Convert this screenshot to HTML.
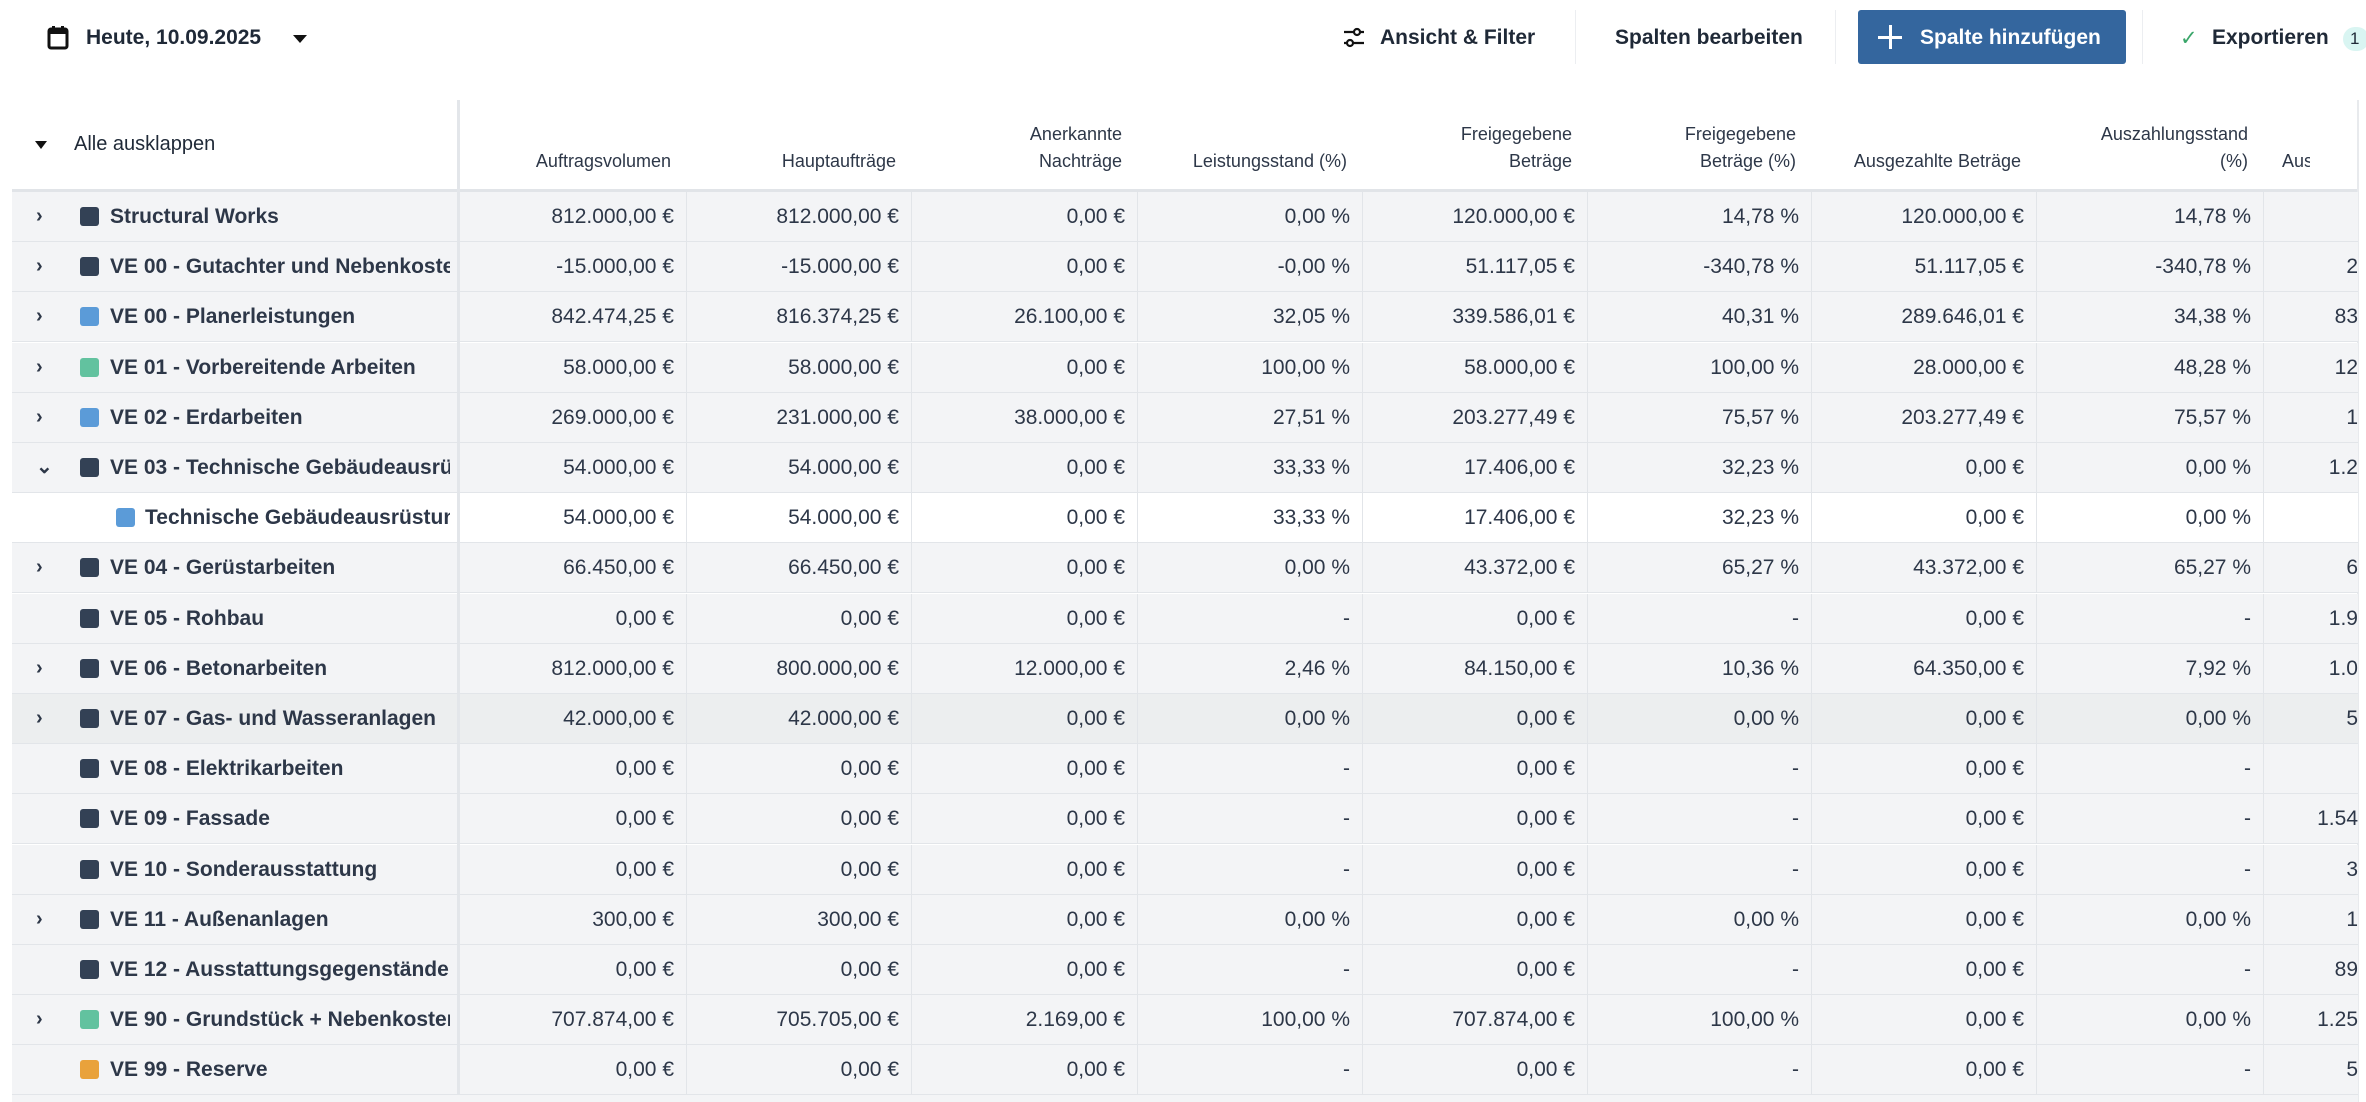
<!DOCTYPE html>
<html><head><meta charset="utf-8">
<style>
*{box-sizing:border-box;margin:0;padding:0}
html,body{width:2366px;height:1102px;overflow:hidden}
body{background:#fff;font-family:"Liberation Sans",sans-serif;color:#2d3748;position:relative}
.top{position:absolute;font-size:21px;font-weight:bold;color:#1f2937;top:26px}
.hdr{position:absolute;top:100px;height:91px;font-size:18px;color:#2d3748;text-align:right;line-height:27px;display:flex;align-items:flex-end;justify-content:flex-end;padding-bottom:16px;padding-right:16px}
.row{position:absolute;left:12px;width:2346px;height:50px;border-bottom:1px solid #e2e5e9;background:#f3f4f6;font-size:21px}
.row.w{background:#fff}
.row.h{background:#eceeef}
.c{position:absolute;top:0;height:49px;line-height:49px;text-align:right;padding-right:12px;border-right:1px solid #e2e5e9;white-space:nowrap;overflow:hidden}
.name{position:absolute;left:0;width:448px;height:49px;line-height:49px;font-weight:bold;white-space:nowrap;overflow:hidden;border-right:3px solid #e3e6ea}
.name .t{position:absolute;left:98px;width:340px;overflow:hidden}
.name .sq{position:absolute;left:68px;top:15px;width:19px;height:19px;border-radius:3px;background:#334155}
.name .ch{position:absolute;left:24px;top:0;font-size:20px;font-weight:bold}
</style></head><body>
<svg style="position:absolute;left:47px;top:25px" width="22" height="25" viewBox="0 0 22 25"><rect x="2" y="4" width="18" height="19" rx="2" fill="none" stroke="#111" stroke-width="3"/><rect x="2" y="4" width="18" height="5" fill="#111"/><rect x="5" y="1" width="3" height="5" fill="#111"/><rect x="14" y="1" width="3" height="5" fill="#111"/></svg>
<div class="top" style="left:86px">Heute, 10.09.2025</div>
<div style="position:absolute;left:293px;top:35px;width:0;height:0;border-left:7px solid transparent;border-right:7px solid transparent;border-top:8px solid #111"></div>
<svg style="position:absolute;left:1342px;top:26px" width="24" height="24" viewBox="0 0 24 24" fill="none" stroke="#111" stroke-width="2.2"><line x1="2" y1="6" x2="22" y2="6"/><line x1="2" y1="17" x2="22" y2="17"/><circle cx="15" cy="6" r="3" fill="#fff"/><circle cx="8" cy="17" r="3" fill="#fff"/></svg>
<div class="top" style="left:1380px">Ansicht &amp; Filter</div>
<div style="position:absolute;left:1575px;top:10px;width:1px;height:54px;background:#eceef1"></div>
<div class="top" style="left:1615px">Spalten bearbeiten</div>
<div style="position:absolute;left:1835px;top:10px;width:1px;height:54px;background:#eceef1"></div>
<div style="position:absolute;left:1858px;top:10px;width:268px;height:54px;background:#34669e;border-radius:3px"></div>
<div style="position:absolute;left:1878px;top:36px;width:24px;height:3px;background:#fff"></div>
<div style="position:absolute;left:1889px;top:25px;width:3px;height:24px;background:#fff"></div>
<div class="top" style="left:1920px;color:#fff">Spalte hinzufügen</div>
<div style="position:absolute;left:2142px;top:10px;width:1px;height:54px;background:#eceef1"></div>
<div class="top" style="left:2180px;color:#3aa66a;font-weight:normal">✓</div>
<div class="top" style="left:2212px">Exportieren</div>
<div style="position:absolute;left:2343px;top:27px;width:26px;height:24px;border-radius:12px;background:#d9f5f2;font-size:17px;line-height:24px;padding-left:7px;color:#1f2937">1</div>

<div style="position:absolute;left:12px;top:100px;width:2346px;height:92px;border-bottom:3px solid #e1e4e8"></div>
<div style="position:absolute;left:457px;top:100px;width:3px;height:1002px;background:#e3e6ea"></div>
<div style="position:absolute;left:2357px;top:100px;width:2px;height:1002px;background:#e8eaed"></div>
<div style="position:absolute;left:35px;top:141px;width:0;height:0;border-left:6px solid transparent;border-right:6px solid transparent;border-top:8px solid #111"></div>
<div style="position:absolute;left:74px;top:133px;font-size:20px;color:#1f2937">Alle ausklappen</div>
<div class="hdr" style="left:460px;width:227px">Auftragsvolumen</div>
<div class="hdr" style="left:687px;width:225px">Hauptaufträge</div>
<div class="hdr" style="left:912px;width:226px">Anerkannte<br>Nachträge</div>
<div class="hdr" style="left:1138px;width:225px">Leistungsstand (%)</div>
<div class="hdr" style="left:1363px;width:225px">Freigegebene<br>Beträge</div>
<div class="hdr" style="left:1588px;width:224px">Freigegebene<br>Beträge (%)</div>
<div class="hdr" style="left:1812px;width:225px">Ausgezahlte Beträge</div>
<div class="hdr" style="left:2037px;width:227px">Auszahlungsstand<br>(%)</div>
<div class="hdr" style="left:2264px;width:46px;justify-content:flex-start;padding-left:18px;padding-right:0;overflow:hidden">Ausgezahlt</div>

<div class="row" style="top:192px"><div class="name"><span class="ch">›</span><span class="sq"></span><span class="t">Structural Works</span></div><div class="c" style="left:448px;width:227px">812.000,00 €</div><div class="c" style="left:675px;width:225px">812.000,00 €</div><div class="c" style="left:900px;width:226px">0,00 €</div><div class="c" style="left:1126px;width:225px">0,00 %</div><div class="c" style="left:1351px;width:225px">120.000,00 €</div><div class="c" style="left:1576px;width:224px">14,78 %</div><div class="c" style="left:1800px;width:225px">120.000,00 €</div><div class="c" style="left:2025px;width:227px">14,78 %</div><div class="c" style="left:2252px;width:94px;padding-right:0;border:0"></div></div>
<div class="row" style="top:242px"><div class="name"><span class="ch">›</span><span class="sq"></span><span class="t">VE 00 - Gutachter und Nebenkosten</span></div><div class="c" style="left:448px;width:227px">-15.000,00 €</div><div class="c" style="left:675px;width:225px">-15.000,00 €</div><div class="c" style="left:900px;width:226px">0,00 €</div><div class="c" style="left:1126px;width:225px">-0,00 %</div><div class="c" style="left:1351px;width:225px">51.117,05 €</div><div class="c" style="left:1576px;width:224px">-340,78 %</div><div class="c" style="left:1800px;width:225px">51.117,05 €</div><div class="c" style="left:2025px;width:227px">-340,78 %</div><div class="c" style="left:2252px;width:94px;padding-right:0;border:0">2</div></div>
<div class="row" style="top:292px"><div class="name"><span class="ch">›</span><span class="sq" style="background:#5b9bd8"></span><span class="t">VE 00 - Planerleistungen</span></div><div class="c" style="left:448px;width:227px">842.474,25 €</div><div class="c" style="left:675px;width:225px">816.374,25 €</div><div class="c" style="left:900px;width:226px">26.100,00 €</div><div class="c" style="left:1126px;width:225px">32,05 %</div><div class="c" style="left:1351px;width:225px">339.586,01 €</div><div class="c" style="left:1576px;width:224px">40,31 %</div><div class="c" style="left:1800px;width:225px">289.646,01 €</div><div class="c" style="left:2025px;width:227px">34,38 %</div><div class="c" style="left:2252px;width:94px;padding-right:0;border:0">83</div></div>
<div class="row" style="top:343px"><div class="name"><span class="ch">›</span><span class="sq" style="background:#62c29f"></span><span class="t">VE 01 - Vorbereitende Arbeiten</span></div><div class="c" style="left:448px;width:227px">58.000,00 €</div><div class="c" style="left:675px;width:225px">58.000,00 €</div><div class="c" style="left:900px;width:226px">0,00 €</div><div class="c" style="left:1126px;width:225px">100,00 %</div><div class="c" style="left:1351px;width:225px">58.000,00 €</div><div class="c" style="left:1576px;width:224px">100,00 %</div><div class="c" style="left:1800px;width:225px">28.000,00 €</div><div class="c" style="left:2025px;width:227px">48,28 %</div><div class="c" style="left:2252px;width:94px;padding-right:0;border:0">12</div></div>
<div class="row" style="top:393px"><div class="name"><span class="ch">›</span><span class="sq" style="background:#5b9bd8"></span><span class="t">VE 02 - Erdarbeiten</span></div><div class="c" style="left:448px;width:227px">269.000,00 €</div><div class="c" style="left:675px;width:225px">231.000,00 €</div><div class="c" style="left:900px;width:226px">38.000,00 €</div><div class="c" style="left:1126px;width:225px">27,51 %</div><div class="c" style="left:1351px;width:225px">203.277,49 €</div><div class="c" style="left:1576px;width:224px">75,57 %</div><div class="c" style="left:1800px;width:225px">203.277,49 €</div><div class="c" style="left:2025px;width:227px">75,57 %</div><div class="c" style="left:2252px;width:94px;padding-right:0;border:0">1</div></div>
<div class="row" style="top:443px"><div class="name"><span class="ch">⌄</span><span class="sq"></span><span class="t">VE 03 - Technische Gebäudeausrüstung</span></div><div class="c" style="left:448px;width:227px">54.000,00 €</div><div class="c" style="left:675px;width:225px">54.000,00 €</div><div class="c" style="left:900px;width:226px">0,00 €</div><div class="c" style="left:1126px;width:225px">33,33 %</div><div class="c" style="left:1351px;width:225px">17.406,00 €</div><div class="c" style="left:1576px;width:224px">32,23 %</div><div class="c" style="left:1800px;width:225px">0,00 €</div><div class="c" style="left:2025px;width:227px">0,00 %</div><div class="c" style="left:2252px;width:94px;padding-right:0;border:0">1.2</div></div>
<div class="row w" style="top:493px"><div class="name"><span class="sq" style="left:104px;background:#5b9bd8"></span><span class="t" style="left:133px;width:305px">Technische Gebäudeausrüstung</span></div><div class="c" style="left:448px;width:227px">54.000,00 €</div><div class="c" style="left:675px;width:225px">54.000,00 €</div><div class="c" style="left:900px;width:226px">0,00 €</div><div class="c" style="left:1126px;width:225px">33,33 %</div><div class="c" style="left:1351px;width:225px">17.406,00 €</div><div class="c" style="left:1576px;width:224px">32,23 %</div><div class="c" style="left:1800px;width:225px">0,00 €</div><div class="c" style="left:2025px;width:227px">0,00 %</div><div class="c" style="left:2252px;width:94px;padding-right:0;border:0"></div></div>
<div class="row" style="top:543px"><div class="name"><span class="ch">›</span><span class="sq"></span><span class="t">VE 04 - Gerüstarbeiten</span></div><div class="c" style="left:448px;width:227px">66.450,00 €</div><div class="c" style="left:675px;width:225px">66.450,00 €</div><div class="c" style="left:900px;width:226px">0,00 €</div><div class="c" style="left:1126px;width:225px">0,00 %</div><div class="c" style="left:1351px;width:225px">43.372,00 €</div><div class="c" style="left:1576px;width:224px">65,27 %</div><div class="c" style="left:1800px;width:225px">43.372,00 €</div><div class="c" style="left:2025px;width:227px">65,27 %</div><div class="c" style="left:2252px;width:94px;padding-right:0;border:0">6</div></div>
<div class="row" style="top:594px"><div class="name"><span class="sq"></span><span class="t">VE 05 - Rohbau</span></div><div class="c" style="left:448px;width:227px">0,00 €</div><div class="c" style="left:675px;width:225px">0,00 €</div><div class="c" style="left:900px;width:226px">0,00 €</div><div class="c" style="left:1126px;width:225px">-</div><div class="c" style="left:1351px;width:225px">0,00 €</div><div class="c" style="left:1576px;width:224px">-</div><div class="c" style="left:1800px;width:225px">0,00 €</div><div class="c" style="left:2025px;width:227px">-</div><div class="c" style="left:2252px;width:94px;padding-right:0;border:0">1.9</div></div>
<div class="row" style="top:644px"><div class="name"><span class="ch">›</span><span class="sq"></span><span class="t">VE 06 - Betonarbeiten</span></div><div class="c" style="left:448px;width:227px">812.000,00 €</div><div class="c" style="left:675px;width:225px">800.000,00 €</div><div class="c" style="left:900px;width:226px">12.000,00 €</div><div class="c" style="left:1126px;width:225px">2,46 %</div><div class="c" style="left:1351px;width:225px">84.150,00 €</div><div class="c" style="left:1576px;width:224px">10,36 %</div><div class="c" style="left:1800px;width:225px">64.350,00 €</div><div class="c" style="left:2025px;width:227px">7,92 %</div><div class="c" style="left:2252px;width:94px;padding-right:0;border:0">1.0</div></div>
<div class="row h" style="top:694px"><div class="name"><span class="ch">›</span><span class="sq"></span><span class="t">VE 07 - Gas- und Wasseranlagen</span></div><div class="c" style="left:448px;width:227px">42.000,00 €</div><div class="c" style="left:675px;width:225px">42.000,00 €</div><div class="c" style="left:900px;width:226px">0,00 €</div><div class="c" style="left:1126px;width:225px">0,00 %</div><div class="c" style="left:1351px;width:225px">0,00 €</div><div class="c" style="left:1576px;width:224px">0,00 %</div><div class="c" style="left:1800px;width:225px">0,00 €</div><div class="c" style="left:2025px;width:227px">0,00 %</div><div class="c" style="left:2252px;width:94px;padding-right:0;border:0">5</div></div>
<div class="row" style="top:744px"><div class="name"><span class="sq"></span><span class="t">VE 08 - Elektrikarbeiten</span></div><div class="c" style="left:448px;width:227px">0,00 €</div><div class="c" style="left:675px;width:225px">0,00 €</div><div class="c" style="left:900px;width:226px">0,00 €</div><div class="c" style="left:1126px;width:225px">-</div><div class="c" style="left:1351px;width:225px">0,00 €</div><div class="c" style="left:1576px;width:224px">-</div><div class="c" style="left:1800px;width:225px">0,00 €</div><div class="c" style="left:2025px;width:227px">-</div><div class="c" style="left:2252px;width:94px;padding-right:0;border:0"></div></div>
<div class="row" style="top:794px"><div class="name"><span class="sq"></span><span class="t">VE 09 - Fassade</span></div><div class="c" style="left:448px;width:227px">0,00 €</div><div class="c" style="left:675px;width:225px">0,00 €</div><div class="c" style="left:900px;width:226px">0,00 €</div><div class="c" style="left:1126px;width:225px">-</div><div class="c" style="left:1351px;width:225px">0,00 €</div><div class="c" style="left:1576px;width:224px">-</div><div class="c" style="left:1800px;width:225px">0,00 €</div><div class="c" style="left:2025px;width:227px">-</div><div class="c" style="left:2252px;width:94px;padding-right:0;border:0">1.54</div></div>
<div class="row" style="top:845px"><div class="name"><span class="sq"></span><span class="t">VE 10 - Sonderausstattung</span></div><div class="c" style="left:448px;width:227px">0,00 €</div><div class="c" style="left:675px;width:225px">0,00 €</div><div class="c" style="left:900px;width:226px">0,00 €</div><div class="c" style="left:1126px;width:225px">-</div><div class="c" style="left:1351px;width:225px">0,00 €</div><div class="c" style="left:1576px;width:224px">-</div><div class="c" style="left:1800px;width:225px">0,00 €</div><div class="c" style="left:2025px;width:227px">-</div><div class="c" style="left:2252px;width:94px;padding-right:0;border:0">3</div></div>
<div class="row" style="top:895px"><div class="name"><span class="ch">›</span><span class="sq"></span><span class="t">VE 11 - Außenanlagen</span></div><div class="c" style="left:448px;width:227px">300,00 €</div><div class="c" style="left:675px;width:225px">300,00 €</div><div class="c" style="left:900px;width:226px">0,00 €</div><div class="c" style="left:1126px;width:225px">0,00 %</div><div class="c" style="left:1351px;width:225px">0,00 €</div><div class="c" style="left:1576px;width:224px">0,00 %</div><div class="c" style="left:1800px;width:225px">0,00 €</div><div class="c" style="left:2025px;width:227px">0,00 %</div><div class="c" style="left:2252px;width:94px;padding-right:0;border:0">1</div></div>
<div class="row" style="top:945px"><div class="name"><span class="sq"></span><span class="t">VE 12 - Ausstattungsgegenstände</span></div><div class="c" style="left:448px;width:227px">0,00 €</div><div class="c" style="left:675px;width:225px">0,00 €</div><div class="c" style="left:900px;width:226px">0,00 €</div><div class="c" style="left:1126px;width:225px">-</div><div class="c" style="left:1351px;width:225px">0,00 €</div><div class="c" style="left:1576px;width:224px">-</div><div class="c" style="left:1800px;width:225px">0,00 €</div><div class="c" style="left:2025px;width:227px">-</div><div class="c" style="left:2252px;width:94px;padding-right:0;border:0">89</div></div>
<div class="row" style="top:995px"><div class="name"><span class="ch">›</span><span class="sq" style="background:#62c29f"></span><span class="t">VE 90 - Grundstück + Nebenkosten</span></div><div class="c" style="left:448px;width:227px">707.874,00 €</div><div class="c" style="left:675px;width:225px">705.705,00 €</div><div class="c" style="left:900px;width:226px">2.169,00 €</div><div class="c" style="left:1126px;width:225px">100,00 %</div><div class="c" style="left:1351px;width:225px">707.874,00 €</div><div class="c" style="left:1576px;width:224px">100,00 %</div><div class="c" style="left:1800px;width:225px">0,00 €</div><div class="c" style="left:2025px;width:227px">0,00 %</div><div class="c" style="left:2252px;width:94px;padding-right:0;border:0">1.25</div></div>
<div class="row" style="top:1045px"><div class="name"><span class="sq" style="background:#e9a23b"></span><span class="t">VE 99 - Reserve</span></div><div class="c" style="left:448px;width:227px">0,00 €</div><div class="c" style="left:675px;width:225px">0,00 €</div><div class="c" style="left:900px;width:226px">0,00 €</div><div class="c" style="left:1126px;width:225px">-</div><div class="c" style="left:1351px;width:225px">0,00 €</div><div class="c" style="left:1576px;width:224px">-</div><div class="c" style="left:1800px;width:225px">0,00 €</div><div class="c" style="left:2025px;width:227px">-</div><div class="c" style="left:2252px;width:94px;padding-right:0;border:0">5</div></div>
<div class="row" style="top:1095px;height:7px;border:0"></div>
</body></html>
